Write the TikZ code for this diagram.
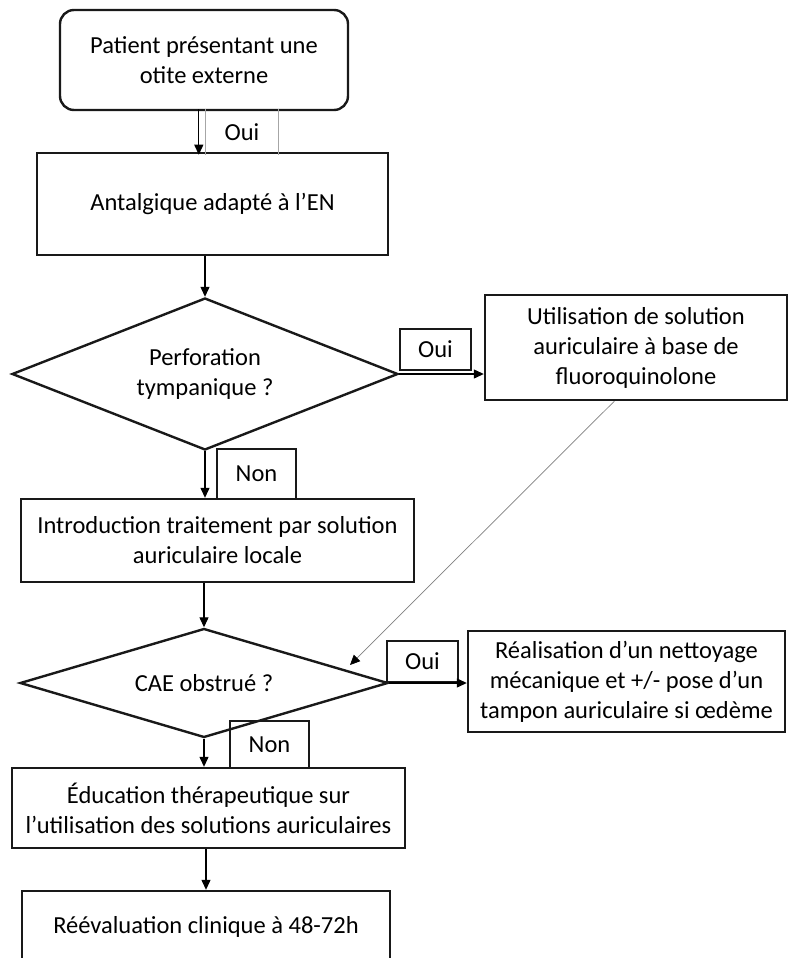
\documentclass[tikz,border=0pt]{standalone}
\usepackage{fontspec}
\setmainfont{Carlito}
\usetikzlibrary{shapes.geometric,arrows.meta}
\begin{document}
\begin{tikzpicture}[x=1pt,y=-1pt]
\useasboundingbox (0,0) rectangle (787,958);
\begin{scope}[every node/.style={draw=black!90,line width=2.4pt,align=center,inner sep=0pt,text=black,font=\fontsize{24.5}{30}\selectfont},
    etiq/.style={line width=2pt,minimum width=71pt,minimum height=41pt},
    losange/.style={diamond,aspect=3}]
    \node[rounded corners=14pt,minimum width=288pt,minimum height=100pt] (patient) at (204,60) {Patient présentant une\\otite externe};
    \node[draw=none,minimum width=70pt,minimum height=43pt] (oui1) at (242,132) {Oui};
    \node[minimum width=351pt,minimum height=102pt] (antalg) at (212.5,204) {Antalgique adapté à l’EN};
    \node[losange,minimum width=386pt,minimum height=152pt] (perfo) at (205,374) {Perforation\\tympanique ?};
    \node[etiq] (oui2) at (435.5,349.5) {Oui};
    \node[minimum width=302pt,minimum height=105pt] (fluoro) at (636,347.5) {Utilisation de solution\\auriculaire à base de\\fluoroquinolone};
    \node[etiq,minimum width=79pt,minimum height=50pt] (non1) at (256.5,474) {Non};
    \node[minimum width=393pt,minimum height=83pt] (intro) at (217.5,540.5) {Introduction traitement par solution\\auriculaire locale};
    \node[losange,minimum width=368pt,minimum height=109pt] (cae) at (204,683) {CAE obstrué ?};
    \node[etiq] (oui3) at (422.5,661.5) {Oui};
    \node[minimum width=317pt,minimum height=101pt] (nettoy) at (626.5,681.5) {Réalisation d’un nettoyage\\mécanique et +/- pose d’un\\tampon auriculaire si œdème};
    \node[etiq,minimum width=79pt,minimum height=47pt] (non2) at (269.5,744.5) {Non};
    \node[minimum width=393pt,minimum height=80pt] (educ) at (208.5,808) {Éducation thérapeutique sur\\l’utilisation des solutions auriculaires};
    \node[minimum width=368pt,minimum height=72pt] (reeval) at (206,927) {Réévaluation clinique à 48-72h};
\end{scope}
\coordinate (impact) at (350,665);
\begin{scope}[line width=1.2pt, >={Triangle[width=9pt,length=10pt]}]
    \draw[gray!70,line width=1pt] (oui1.north west) -- (oui1.south west)
        (oui1.north east) -- (oui1.south east);
    \draw[->] ([xshift=-7pt]oui1.north west) -- ([xshift=-7pt]oui1.south west);
    \draw[->] (antalg.south -| perfo.north) -- (perfo.north);
    \draw[->] (perfo.east) -- (perfo.east -| fluoro.west);
    \draw[->] (perfo.south) -- (perfo.south |- intro.north);
    \draw[->] (intro.south -| cae.north) -- (cae.north);
    \draw[->] (cae.east) -- (cae.east -| nettoy.west);
    \draw[->] (cae.south) -- (cae.south |- educ.north);
    \draw[->] (educ.south -| reeval.north) -- (reeval.north);
    \draw[-{Triangle[width=9pt,length=10pt,black]},gray,line width=0.7pt] (fluoro.248) -- (impact);
\end{scope}
\end{tikzpicture}
\end{document}
